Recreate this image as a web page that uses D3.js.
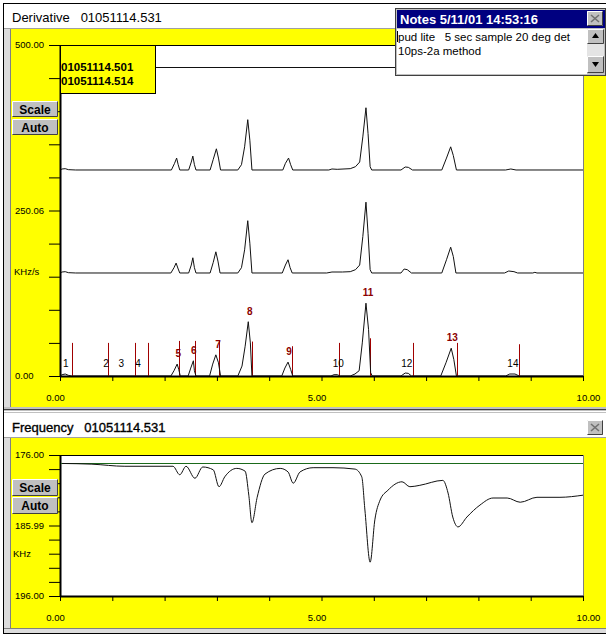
<!DOCTYPE html>
<html>
<head>
<meta charset="utf-8">
<script src="https://cdn.jsdelivr.net/npm/d3@7/dist/d3.min.js"></script>
<style>
  body { margin: 0; background: #fff; }
  svg text { font-family: Arial, "Liberation Sans", sans-serif; }
</style>
</head>
<body>
<div id="chart"></div>
<script>
// ---- data ----
const timeTicks = [0, 1, 2, 3, 4, 5, 6, 7, 8, 9, 10];
const timeTickLabels = ["0.00", "", "", "", "", "5.00", "", "", "", "", "10.00"];

const derivTicks = [0, 50, 100, 150, 200, 250, 300, 350, 400, 450, 500];
const derivTickLabels = ["0.00", "", "", "", "", "250.06", "", "", "", "", "500.00"];

const freqTicks = [176, 178, 180, 182, 184, 186, 188, 190, 192, 194, 196];
const freqTickLabels = ["176.00", "", "", "", "", "185.99", "", "", "", "", "196.00"];

// derivative runs: [time (min), KHz/s]
const trace531 = [[0,0],[0.04,2],[0.1,3],[0.16,1],[0.22,0],
  [2.12,0],[2.18,8],[2.24,18],[2.27,10],[2.30,0],
  [2.45,0],[2.50,12],[2.55,23],[2.57,8],[2.60,0],
  [2.86,0],[2.92,18],[2.98,32],[3.03,20],[3.07,0],
  [3.40,0],[3.48,15],[3.54,45],[3.60,82],[3.64,50],[3.67,0],
  [4.24,0],[4.30,12],[4.36,21],[4.41,10],[4.45,0],
  [5.18,0],[5.24,2],[5.30,2],[5.36,0],
  [5.55,0],[5.64,3],[5.72,8],[5.78,50],[5.85,110],[5.90,70],[5.94,5],[5.97,0],
  [6.52,0],[6.60,4.5],[6.66,4],[6.72,0],
  [7.28,0],[7.38,20],[7.48,42],[7.53,25],[7.58,0],
  [8.52,0],[8.60,3],[8.70,3],[8.78,0],[10,0]];

const trace514 = [[0,0],[0.04,1.5],[0.1,2],[0.16,0.5],[0.3,0],
  [2.12,0],[2.18,8],[2.22,15],[2.26,6],[2.29,0],
  [2.46,0],[2.51,12],[2.54,23],[2.57,8],[2.60,0],
  [2.87,0],[2.93,16],[2.98,32],[3.02,18],[3.06,0],
  [3.40,0],[3.47,8],[3.53,35],[3.59,79],[3.63,45],[3.67,0],
  [4.25,0],[4.31,12],[4.36,20],[4.40,8],[4.44,0],
  [5.10,0],[5.20,1.5],[5.40,1.5],
  [5.55,2],[5.65,5],[5.73,12],[5.79,55],[5.85,107],[5.89,60],[5.93,5],[5.96,0],
  [6.52,0],[6.58,6],[6.64,5],[6.72,0],
  [7.30,0],[7.39,20],[7.47,39],[7.52,25],[7.57,0],
  [8.50,0],[8.58,3],[8.68,2],[8.75,0],
  [9.04,0],[9.08,1],[9.12,0],[10,0]];

const trace501 = [[0,0],[0.04,1.5],[0.1,2],[0.16,0.5],[0.3,0],
  [2.13,0],[2.19,10],[2.23,18],[2.26,8],[2.29,0],
  [2.46,0],[2.51,12],[2.54,21],[2.57,8],[2.60,0],
  [2.87,0],[2.93,16],[2.99,32],[3.03,18],[3.07,0],
  [3.40,0],[3.47,8],[3.53,35],[3.59,76],[3.63,45],[3.67,0],
  [4.26,0],[4.31,10],[4.37,18],[4.41,8],[4.45,0],
  [5.14,0],[5.20,1.5],[5.30,1],
  [5.55,2],[5.65,5],[5.73,12],[5.79,50],[5.85,94],[5.89,55],[5.93,5],[5.96,0],
  [6.52,0],[6.60,4.5],[6.66,4],[6.74,0],
  [7.30,0],[7.39,18],[7.47,35],[7.52,22],[7.58,0],
  [8.52,0],[8.62,1.5],[8.72,0],[10,0]];

const traceOffsets = [0, 155.6, 311.2];   // stacked display offsets, KHz/s
const refLevel = 466.8;                    // flat line under the notes window

// peak table (run 531)
const peakIds = ["1","2","3","4","5","6","7","8","9","10","11","12","13","14"];
const peakTime = [0.11,0.88,1.17,1.49,2.26,2.56,3.02,3.63,4.38,5.32,5.89,6.63,7.50,8.66];
const peakHeight = [3,0,0,0,18,23,32,82,21,2,110,4.5,42,3];
const peakFound = [false,false,false,false,true,true,true,true,true,false,true,false,true,false];
const markerTime = [0.23,0.92,1.43,1.68,2.28,2.58,3.04,3.67,4.44,5.33,5.93,6.75,7.59,8.78];
const markerTop = [50,50,50,50,53,53,54,52,45,50,57,50,50,48];

// frequency run 531: time (min), KHz
const freqTime = [0.04,0.61,1.24,2.16,2.29,2.41,2.58,2.73,2.93,3.04,3.15,3.38,3.54,3.61,3.67,3.77,3.92,4.21,4.36,4.46,
  4.59,4.84,5.22,5.64,5.77,5.83,5.93,6.02,6.12,6.27,6.54,6.69,6.88,7.32,7.42,7.51,7.61,7.78,8.03,8.28,
  8.55,8.80,9.12,9.56,10.0];
const freqValue = [177.2,177.3,177.6,177.6,178.8,177.6,179.3,177.7,178.1,180.5,179.1,177.9,178.3,181.7,185.6,182.0,178.7,177.9,178.4,180.0,
  178.4,177.8,177.8,178.0,179.1,183.8,191.2,185.2,182.4,181.0,179.8,180.5,180.3,179.6,181.4,184.8,186.2,184.8,183.1,182.1,
  182.1,182.7,182.0,182.0,181.7];
const freqRef = 177.18;

const YELLOW = "#ffff00", FACE = "#c0c0c0", MAROON = "#a00000";

const svg = d3.select("#chart").append("svg")
    .attr("width", 606)
    .attr("height", 635);

// ---- window chrome ----
svg.append("rect").attr("width", 606).attr("height", 635).attr("fill", "#fff");
svg.append("rect").attr("x", 3.5).attr("y", 3.5).attr("width", 606).attr("height", 630)
    .attr("fill", "#dcdcdc").attr("stroke", "#000");

function bevel(g, x, y, w, h) {
  g.append("rect").attr("x", x).attr("y", y).attr("width", w).attr("height", h).attr("fill", FACE);
  g.append("path").attr("d", `M${x + 0.5},${y + h - 0.5}V${y + 0.5}H${x + w - 0.5}`)
      .attr("fill", "none").attr("stroke", "#fff");
  g.append("path").attr("d", `M${x + 0.5},${y + h - 0.5}H${x + w - 0.5}V${y + 0.5}`)
      .attr("fill", "none").attr("stroke", "#404040");
}

function button(x, y, w, h, label) {
  const g = svg.append("g");
  bevel(g, x, y, w, h);
  g.append("text").attr("x", x + w / 2).attr("y", y + h / 2 + 4.5)
      .attr("text-anchor", "middle").attr("font-size", 12).attr("font-weight", "bold")
      .text(label);
}

function closeBox(x, y) {
  const g = svg.append("g");
  bevel(g, x, y, 16, 15);
  g.append("path").attr("d", `M${x + 4},${y + 4}L${x + 12},${y + 11}M${x + 12},${y + 4}L${x + 4},${y + 11}`)
      .attr("stroke", "#707070").attr("stroke-width", 1.6);
}

// derivative panel
svg.append("rect").attr("x", 4).attr("y", 4).attr("width", 602).attr("height", 24).attr("fill", "#fff");
svg.append("line").attr("x1", 4).attr("x2", 606).attr("y1", 28.5).attr("y2", 28.5).attr("stroke", "#a0a0a0");
svg.append("rect").attr("x", 11).attr("y", 29).attr("width", 595).attr("height", 378).attr("fill", YELLOW);
svg.append("line").attr("x1", 10.5).attr("x2", 10.5).attr("y1", 29).attr("y2", 407).attr("stroke", "#808080");
svg.append("text").attr("x", 12).attr("y", 22).attr("font-size", 13)
    .style("white-space", "pre")
    .text("Derivative   01051114.531");

// splitter
svg.append("rect").attr("x", 4).attr("y", 407).attr("width", 602).attr("height", 6).attr("fill", FACE);
svg.append("line").attr("x1", 4).attr("x2", 606).attr("y1", 409.5).attr("y2", 409.5).attr("stroke", "#404040");
svg.append("line").attr("x1", 4).attr("x2", 606).attr("y1", 411.5).attr("y2", 411.5).attr("stroke", "#fff");

// frequency panel
svg.append("rect").attr("x", 4).attr("y", 413).attr("width", 602).attr("height", 24).attr("fill", "#fff");
svg.append("line").attr("x1", 4).attr("x2", 606).attr("y1", 437.5).attr("y2", 437.5).attr("stroke", "#a0a0a0");
svg.append("rect").attr("x", 11).attr("y", 438).attr("width", 595).attr("height", 190).attr("fill", YELLOW);
svg.append("line").attr("x1", 10.5).attr("x2", 10.5).attr("y1", 438).attr("y2", 628).attr("stroke", "#808080");
svg.append("line").attr("x1", 4).attr("x2", 606).attr("y1", 628.5).attr("y2", 628.5).attr("stroke", "#808080");
svg.append("text").attr("x", 12).attr("y", 432).attr("font-size", 13)
    .attr("stroke", "#000").attr("stroke-width", 0.35)
    .style("white-space", "pre")
    .text("Frequency   01051114.531");
closeBox(587, 420);

// ---- scales ----
const x = d3.scaleLinear().domain([0, 10]).range([60, 583]);
const yD = d3.scaleLinear().domain([0, 500]).range([376, 45]);
const yF = d3.scaleLinear().domain([176, 196]).range([455, 596]);

// plot backgrounds
svg.append("rect").attr("x", 60).attr("y", 45).attr("width", 523).attr("height", 331).attr("fill", "#fff");
svg.append("rect").attr("x", 60).attr("y", 455).attr("width", 523).attr("height", 141).attr("fill", "#fff");
svg.append("line").attr("x1", 583.5).attr("x2", 583.5).attr("y1", 45).attr("y2", 376).attr("stroke", "#808080");
svg.append("line").attr("x1", 583.5).attr("x2", 583.5).attr("y1", 455).attr("y2", 596).attr("stroke", "#808080");
svg.append("line").attr("x1", 60).attr("x2", 583).attr("y1", 45.5).attr("y2", 45.5).attr("stroke", "#000");
svg.append("line").attr("x1", 60).attr("x2", 583).attr("y1", 455.5).attr("y2", 455.5).attr("stroke", "#000");

// ---- axes ----
function styleAxis(g) {
  g.select(".domain").attr("stroke-width", 2);
  g.selectAll("text").attr("font-family", "Arial, 'Liberation Sans', sans-serif").attr("font-size", 9.5).attr("fill", "#000");
}

function bottomAxis(y0) {
  const g = svg.append("g")
      .attr("transform", `translate(0,${y0})`)
      .call(d3.axisBottom(x).tickValues(timeTicks).tickSize(5).tickSizeOuter(0).tickPadding(13)
          .tickFormat((d, i) => timeTickLabels[i]));
  styleAxis(g);
  g.selectAll(".tick text").attr("dx", d => d === 10 ? 5 : -5);
}
bottomAxis(376);
bottomAxis(596);

function leftAxis(scale, ticks, labels) {
  const g = svg.append("g")
      .attr("transform", "translate(60,0)")
      .call(d3.axisLeft(scale).tickValues(ticks).tickSize(11).tickSizeOuter(0)
          .tickFormat((d, i) => labels[i]));
  styleAxis(g);
  g.selectAll(".tick text").attr("x", -45).attr("dy", "0.3em").attr("text-anchor", "start");
}
leftAxis(yD, derivTicks, derivTickLabels);
leftAxis(yF, freqTicks, freqTickLabels);

svg.append("text").attr("x", 14).attr("y", 275).attr("font-size", 9.5).text("KHz/s");
svg.append("text").attr("x", 13).attr("y", 557).attr("font-size", 9.5).text("KHz");

// ---- derivative traces ----
svg.append("clipPath").attr("id", "clipD")
  .append("rect").attr("x", 61).attr("y", 46).attr("width", 522).attr("height", 330);

const plotD = svg.append("g").attr("clip-path", "url(#clipD)");

// peak window markers (under the traces)
plotD.selectAll(".marker")
  .data(markerTime)
  .join("line")
    .attr("class", "marker")
    .attr("x1", d => Math.round(x(d)) + 0.5)
    .attr("x2", d => Math.round(x(d)) + 0.5)
    .attr("y1", yD(0))
    .attr("y2", (d, i) => yD(markerTop[i]))
    .attr("stroke", MAROON)
    .attr("stroke-width", 1);

[trace531, trace514, trace501].forEach((tr, i) => {
  const line = d3.line()
      .x(d => x(d[0]))
      .y(d => yD(d[1] + traceOffsets[i]));
  plotD.append("path")
      .datum(tr)
      .attr("fill", "none")
      .attr("stroke", "#111")
      .attr("stroke-width", 1)
      .attr("d", line);
});

plotD.append("line")
    .attr("x1", x(0)).attr("x2", x(10))
    .attr("y1", Math.round(yD(refLevel)) + 0.5).attr("y2", Math.round(yD(refLevel)) + 0.5)
    .attr("stroke", "#111");

// peak numbers
plotD.selectAll(".peaklab")
  .data(peakIds)
  .join("text")
    .attr("class", "peaklab")
    .attr("x", (d, i) => x(peakTime[i]))
    .attr("y", (d, i) => peakFound[i] ? yD(peakHeight[i]) - 7 : yD(0) - 9)
    .attr("text-anchor", "middle")
    .attr("font-size", 10)
    .attr("font-weight", (d, i) => peakFound[i] ? "bold" : "normal")
    .attr("fill", (d, i) => peakFound[i] ? "#8b0000" : "#000")
    .text(d => d);

// legend box of overlaid runs
const legendRuns = ["01051114.501", "01051114.514"];
svg.append("rect").attr("x", 60.5).attr("y", 45.5).attr("width", 95).attr("height", 48)
    .attr("fill", YELLOW).attr("stroke", "#000");
svg.selectAll(".legrun")
  .data(legendRuns)
  .join("text")
    .attr("class", "legrun")
    .attr("x", 61)
    .attr("y", (d, i) => 71 + i * 14)
    .attr("font-size", 11.5)
    .attr("font-weight", "bold")
    .text(d => d);

button(12, 101, 46, 16, "Scale");
button(12, 119, 46, 16, "Auto");
button(12, 479, 46, 17, "Scale");
button(12, 497, 46, 17, "Auto");

// ---- frequency trace ----
svg.append("clipPath").attr("id", "clipF")
  .append("rect").attr("x", 61).attr("y", 456).attr("width", 522).attr("height", 140);
const plotF = svg.append("g").attr("clip-path", "url(#clipF)");

plotF.append("line")
    .attr("x1", x(0)).attr("x2", x(10))
    .attr("y1", Math.round(yF(freqRef)) + 0.5).attr("y2", Math.round(yF(freqRef)) + 0.5)
    .attr("stroke", "#1a6a1a");

plotF.append("path")
    .datum(freqTime.map((t, i) => [t, freqValue[i]]))
    .attr("fill", "none")
    .attr("stroke", "#111")
    .attr("stroke-width", 1)
    .attr("d", d3.line().curve(d3.curveMonotoneX).x(d => x(d[0])).y(d => yF(d[1])));

// ---- notes window ----
const notes = svg.append("g");
notes.append("rect").attr("x", 395.5).attr("y", 8.5).attr("width", 210).attr("height", 67)
    .attr("fill", FACE).attr("stroke", "#404040");
notes.append("rect").attr("x", 397).attr("y", 10).attr("width", 208).attr("height", 18).attr("fill", "#000080");
notes.append("text").attr("x", 400).attr("y", 23.5).attr("font-size", 13).attr("font-weight", "bold")
    .attr("fill", "#fff").text("Notes 5/11/01 14:53:16");
closeBox(587, 11);
notes.append("rect").attr("x", 397).attr("y", 29).attr("width", 190).attr("height", 45).attr("fill", "#fff");
notes.append("line").attr("x1", 397.5).attr("x2", 397.5).attr("y1", 31).attr("y2", 42).attr("stroke", "#000");
const noteLines = ["pud lite   5 sec sample 20 deg det", "10ps-2a method"];
notes.selectAll(".note")
  .data(noteLines)
  .join("text")
    .attr("class", "note")
    .attr("x", 398)
    .attr("y", (d, i) => 41 + i * 14)
    .attr("font-size", 11.5)
    .style("white-space", "pre")
    .text(d => d);
// scroll bar
notes.append("rect").attr("x", 587).attr("y", 44).attr("width", 17).attr("height", 12).attr("fill", "#e4e4e4");
bevel(notes, 587, 29, 17, 15);
bevel(notes, 587, 56, 17, 17);
notes.append("path").attr("d", "M595.5,33L599,38H592Z").attr("fill", "#000");
notes.append("path").attr("d", "M592,62H599L595.5,67Z").attr("fill", "#000");
</script>
</body>
</html>
